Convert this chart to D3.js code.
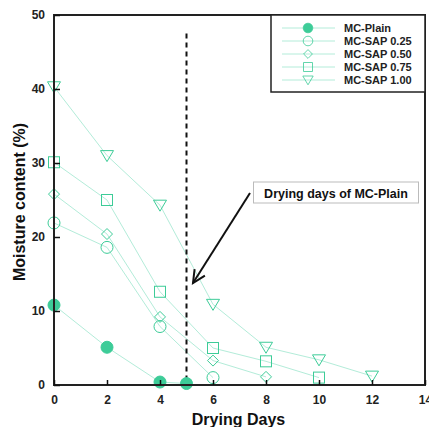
<!DOCTYPE html>
<html>
<head>
<meta charset="utf-8">
<script src="https://cdn.jsdelivr.net/npm/d3@7"></script>
<style>
  body { margin: 0; background: #fff; }
  text { font-family: Arial, "Liberation Sans", sans-serif; }
</style>
</head>
<body>
<div id="chart"></div>
<script>
// Data
const seriesNames = ["MC-Plain", "MC-SAP 0.25", "MC-SAP 0.50", "MC-SAP 0.75", "MC-SAP 1.00"];
const plainDays = [0, 2, 4, 5];
const plainValues = [10.8, 5.1, 0.4, 0.2];
const sap025Days = [0, 2, 4, 6];
const sap025Values = [21.9, 18.6, 7.9, 1.0];
const sap050Days = [0, 2, 4, 6, 8];
const sap050Values = [25.8, 20.4, 9.2, 3.3, 1.1];
const sap075Days = [0, 2, 4, 6, 8, 10];
const sap075Values = [30.1, 25.0, 12.6, 5.0, 3.2, 1.0];
const sap100Days = [0, 2, 4, 6, 8, 10, 12];
const sap100Values = [40.3, 31.0, 24.3, 10.9, 5.1, 3.4, 1.2];
const xTicks = [0, 2, 4, 6, 8, 10, 12, 14];
const yTicks = [0, 10, 20, 30, 40, 50];
const plainDryingDay = 5;

const markerColor = "#3dcc98";
const lineColor = "#b3ecd9";

const series = [
  { name: seriesNames[0], sym: "filled", days: plainDays, vals: plainValues },
  { name: seriesNames[1], sym: "circle", days: sap025Days, vals: sap025Values },
  { name: seriesNames[2], sym: "diamond", days: sap050Days, vals: sap050Values },
  { name: seriesNames[3], sym: "square", days: sap075Days, vals: sap075Values },
  { name: seriesNames[4], sym: "triangle", days: sap100Days, vals: sap100Values }
];

const W = 429, H = 427;
const margin = { left: 54, top: 15, right: 4, bottom: 42 };

const svg = d3.select("#chart").append("svg")
  .attr("width", W).attr("height", H);

const x = d3.scaleLinear().domain([0, 14]).range([margin.left, W - margin.right]);
const y = d3.scaleLinear().domain([0, 50]).range([H - margin.bottom, margin.top]);

// Marker drawing
function drawMarker(g, sym, cx, cy) {
  if (sym === "filled") {
    g.append("circle").attr("cx", cx).attr("cy", cy).attr("r", 6)
      .attr("fill", markerColor).attr("stroke", markerColor);
  } else if (sym === "circle") {
    g.append("ellipse").attr("cx", cx).attr("cy", cy).attr("rx", 6).attr("ry", 6)
      .attr("fill", "none").attr("stroke", markerColor).attr("stroke-width", 1);
  } else if (sym === "diamond") {
    g.append("path")
      .attr("d", `M${cx},${cy - 5.5}L${cx + 5.5},${cy}L${cx},${cy + 5.5}L${cx - 5.5},${cy}Z`)
      .attr("fill", "none").attr("stroke", markerColor).attr("stroke-width", 1);
  } else if (sym === "square") {
    g.append("rect").attr("x", cx - 5.5).attr("y", cy - 5.5).attr("width", 11).attr("height", 11)
      .attr("fill", "none").attr("stroke", markerColor).attr("stroke-width", 1);
  } else if (sym === "triangle") {
    g.append("path")
      .attr("d", `M${cx - 6.5},${cy - 5}L${cx + 6.5},${cy - 5}L${cx},${cy + 6}Z`)
      .attr("fill", "none").attr("stroke", markerColor).attr("stroke-width", 1);
  }
}

// Series lines
const line = d3.line().x(d => x(d[0])).y(d => y(d[1]));
series.forEach(s => {
  const pts = s.days.map((d, i) => [d, s.vals[i]]);
  svg.append("path").datum(pts)
    .attr("d", line)
    .attr("fill", "none")
    .attr("stroke", lineColor)
    .attr("stroke-width", 1);
});

// Dashed line at day 5
svg.append("line")
  .attr("x1", x(plainDryingDay)).attr("x2", x(plainDryingDay))
  .attr("y1", y(47.5)).attr("y2", y(0))
  .attr("stroke", "#111").attr("stroke-width", 2)
  .attr("stroke-dasharray", "5,4");

// Markers
series.forEach(s => {
  const g = svg.append("g");
  s.days.forEach((d, i) => drawMarker(g, s.sym, x(d), y(s.vals[i])));
});

// Frame
svg.append("rect")
  .attr("x", x(0)).attr("y", y(50))
  .attr("width", x(14) - x(0)).attr("height", y(0) - y(50))
  .attr("fill", "none").attr("stroke", "#222").attr("stroke-width", 2);

// Axes (inward ticks)
const xAxis = svg.append("g")
  .attr("transform", `translate(0,${y(0)})`)
  .call(d3.axisBottom(x).tickValues(xTicks).tickSizeInner(-5).tickSizeOuter(0).tickPadding(10));
const yAxis = svg.append("g")
  .attr("transform", `translate(${x(0)},0)`)
  .call(d3.axisLeft(y).tickValues(yTicks).tickSizeInner(-6).tickSizeOuter(0).tickPadding(9));
[xAxis, yAxis].forEach(a => {
  a.select(".domain").remove();
  a.selectAll(".tick line").attr("stroke", "#111").attr("stroke-width", 1.5);
  a.selectAll(".tick text")
    .attr("fill", "#222").attr("font-size", 12).attr("font-weight", "bold");
});

// Axis titles
svg.append("text")
  .attr("x", (x(0) + x(14)) / 2 - 1).attr("y", 425)
  .attr("text-anchor", "middle")
  .attr("font-size", 16).attr("font-weight", "bold").attr("fill", "#111")
  .text("Drying Days");
svg.append("text")
  .attr("transform", `translate(25,${(y(0) + y(50)) / 2 + 2}) rotate(-90)`)
  .attr("text-anchor", "middle")
  .attr("font-size", 16).attr("font-weight", "bold").attr("fill", "#111")
  .text("Moisture content (%)");

// Legend
const lg = svg.append("g");
lg.append("rect")
  .attr("x", 271).attr("y", y(50))
  .attr("width", x(14) - 271).attr("height", 77)
  .attr("fill", "#fff").attr("stroke", "#222").attr("stroke-width", 1.5);
series.forEach((s, i) => {
  const ly = 28 + i * 13;
  lg.append("line").attr("x1", 282).attr("x2", 335).attr("y1", ly).attr("y2", ly)
    .attr("stroke", lineColor).attr("stroke-width", 1);
  const mg = lg.append("g").attr("transform", `translate(308,${ly}) scale(0.8)`);
  drawMarker(mg, s.sym, 0, 0);
  lg.append("text").attr("x", 344).attr("y", ly + 4)
    .attr("font-size", 11).attr("font-weight", "bold").attr("fill", "#222")
    .text(s.name);
});

// Annotation
svg.append("rect")
  .attr("x", 253.5).attr("y", 182).attr("width", 165).attr("height", 21)
  .attr("fill", "#fff").attr("stroke", "#bbb").attr("stroke-width", 1);
svg.append("text")
  .attr("x", 336).attr("y", 197.5).attr("text-anchor", "middle")
  .attr("font-size", 12.5).attr("font-weight", "bold").attr("fill", "#111")
  .text("Drying days of MC-Plain");

const ax0 = 250, ay0 = 193, ax1 = 193, ay1 = 283;
svg.append("line")
  .attr("x1", ax0).attr("y1", ay0).attr("x2", ax1).attr("y2", ay1)
  .attr("stroke", "#111").attr("stroke-width", 2);
const ang = Math.atan2(ay1 - ay0, ax1 - ax0);
const headLen = 14, spread = 0.45;
svg.append("path")
  .attr("d", `M${ax1 - headLen * Math.cos(ang - spread)},${ay1 - headLen * Math.sin(ang - spread)}` +
    `L${ax1},${ay1}L${ax1 - headLen * Math.cos(ang + spread)},${ay1 - headLen * Math.sin(ang + spread)}`)
  .attr("fill", "none").attr("stroke", "#111").attr("stroke-width", 2);
</script>
</body>
</html>
